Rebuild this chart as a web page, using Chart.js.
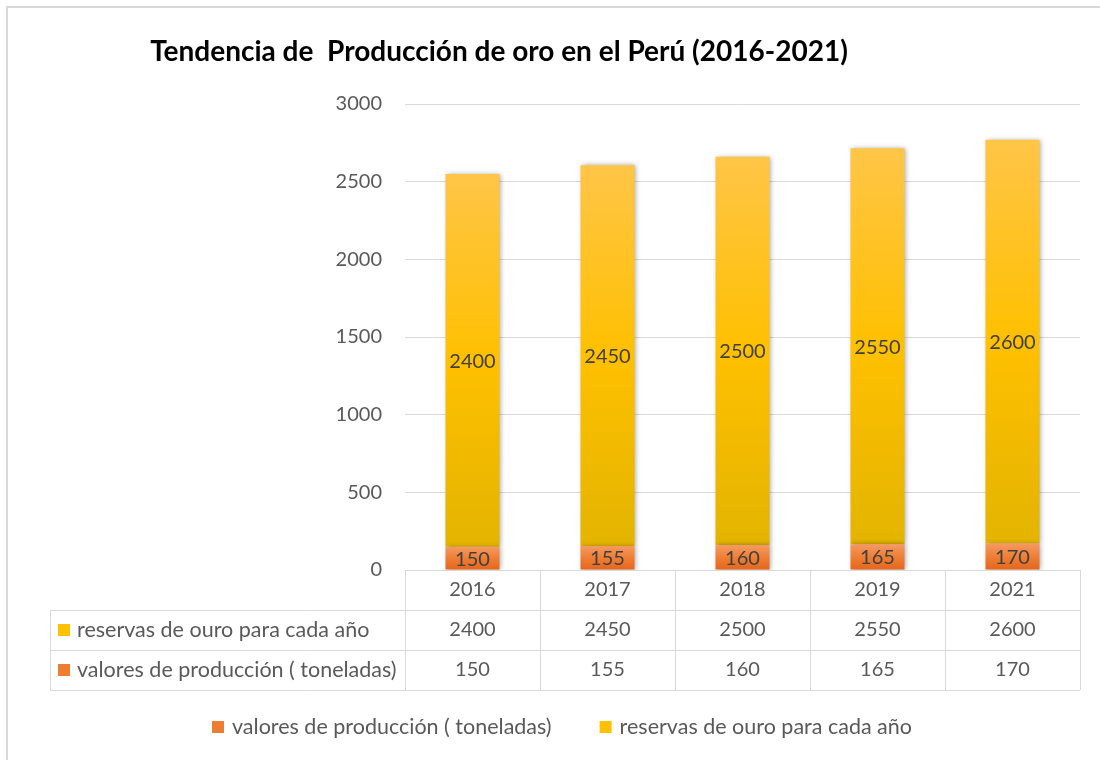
<!DOCTYPE html>
<html>
<head>
<meta charset="utf-8">
<script src="https://cdn.jsdelivr.net/npm/chart.js@4"></script>
<style>
  html, body { margin: 0; padding: 0; background: #fff; }
  #wrap { position: relative; width: 1100px; height: 760px; overflow: hidden; }
  #marco { position: absolute; left: 6px; top: 6px; width: 1200px; height: 900px; border: 2px solid #d9d9d9; }
  #chart01 { position: absolute; left: 0; top: 0; }
</style>
</head>
<body>
<div id="wrap">
  <div id="marco"></div>
  <canvas id="chart01" width="1100" height="760"></canvas>
</div>
<script>
// datos
var titulo = 'Tendencia de  Producción de oro en el Perú (2016-2021)';
var anios = ['2016', '2017', '2018', '2019', '2021'];
var produccion = [150, 155, 160, 165, 170];
var reservas = [2400, 2450, 2500, 2550, 2600];
var nombreProduccion = 'valores de producción ( toneladas)';
var nombreReservas = 'reservas de ouro para cada año';

var FUENTE = 'Lato, "Open Sans", sans-serif';
var GRIS = '#595959';
var LINEA = '#d9d9d9';

// degradado por barra, como en Excel
function degradado(ctx, colores) {
  var chart = ctx.chart;
  if (!chart.chartArea || ctx.type !== 'data') return colores[1];
  var y = chart.scales.y;
  var i = ctx.dataIndex;
  var base = ctx.datasetIndex === 0 ? 0 : produccion[i];
  var tope = base + ctx.raw;
  var y0 = y.getPixelForValue(tope), y1 = y.getPixelForValue(base);
  if (!isFinite(y0) || !isFinite(y1) || y0 === y1) return colores[1];
  var g = chart.ctx.createLinearGradient(0, y0, 0, y1);
  g.addColorStop(0, colores[0]);
  g.addColorStop(0.5, colores[1]);
  g.addColorStop(1, colores[2]);
  return g;
}

// sombra de las barras
var sombra = {
  id: 'sombra',
  beforeDatasetsDraw: function(chart) {
    var c = chart.ctx;
    c.save();
    c.shadowColor = 'rgba(0,0,0,0.35)';
    c.shadowBlur = 5;
    c.shadowOffsetX = 1;
    c.shadowOffsetY = 0;
  },
  afterDatasetsDraw: function(chart) {
    chart.ctx.restore();
  }
};

// etiquetas, tabla de datos, leyenda y titulo
var extras = {
  id: 'extras',
  afterDraw: function(chart) {
    var c = chart.ctx;
    var x = chart.scales.x, area = chart.chartArea;
    c.save();

    // titulo
    c.fillStyle = '#000';
    c.font = 'bold 28px ' + FUENTE;
    c.textAlign = 'center';
    c.textBaseline = 'middle';
    c.fillText(titulo, 499, 52);

    // etiquetas dentro de las barras
    c.font = '20px ' + FUENTE;
    c.fillStyle = '#404040';
    chart.data.datasets.forEach(function(ds, di) {
      chart.getDatasetMeta(di).data.forEach(function(bar, i) {
        var p = bar.getProps(['x', 'y', 'base'], true);
        c.fillText(String(ds.data[i]), p.x, (p.y + p.base) / 2 + 1);
      });
    });

    // tabla
    var top = area.bottom, fila = 40;
    var izq = 50, der = area.right;
    var paso = (area.right - area.left) / anios.length;
    c.strokeStyle = LINEA;
    c.lineWidth = 1;
    c.beginPath();
    c.moveTo(area.left, top + 0.5); c.lineTo(der, top + 0.5);
    for (var r = 1; r <= 3; r++) {
      c.moveTo(izq, top + r * fila + 0.5); c.lineTo(der, top + r * fila + 0.5);
    }
    c.moveTo(izq + 0.5, top + fila); c.lineTo(izq + 0.5, top + 3 * fila);
    for (var k = 0; k <= anios.length; k++) {
      var xx = Math.round(area.left + k * paso) + 0.5;
      c.moveTo(xx, top); c.lineTo(xx, top + 3 * fila);
    }
    c.stroke();

    c.fillStyle = GRIS;
    c.font = '20px ' + FUENTE;
    c.textAlign = 'center';
    anios.forEach(function(a, i) {
      var cx = x.getPixelForValue(i);
      c.fillText(a, cx, top + fila / 2);
      c.fillText(String(reservas[i]), cx, top + fila * 1.5);
      c.fillText(String(produccion[i]), cx, top + fila * 2.5);
    });

    c.textAlign = 'left';
    c.font = '21.5px ' + FUENTE;
    c.fillStyle = '#FFC000';
    c.fillRect(58, top + fila * 1.5 - 6, 12, 12);
    c.fillStyle = '#ED7D31';
    c.fillRect(58, top + fila * 2.5 - 6, 12, 12);
    c.fillStyle = GRIS;
    c.fillText(nombreReservas, 77, top + fila * 1.5);
    c.fillText(nombreProduccion, 77, top + fila * 2.5);

    // leyenda inferior
    var items = chart.data.datasets.map(function(ds) {
      return { texto: ds.label, color: ds.legendColor, w: c.measureText(ds.label).width };
    });
    var total = 0;
    items.forEach(function(it, i) { total += 12 + 8 + it.w + (i ? 48 : 0); });
    var lx = 562 - total / 2, ly = 727;
    items.forEach(function(it) {
      c.fillStyle = it.color;
      c.fillRect(lx, ly - 6, 12, 12);
      c.fillStyle = GRIS;
      c.fillText(it.texto, lx + 20, ly);
      lx += 20 + it.w + 48;
    });

    c.restore();
  }
};

var ctx = document.getElementById('chart01');
var grafico = new Chart(ctx, {
  type: 'bar',
  data: {
    labels: anios,
    datasets: [
    {
      label: nombreProduccion,
      data: produccion,
      legendColor: '#ED7D31',
      backgroundColor: function(c) { return degradado(c, ['#F59A62', '#EE7E34', '#E4661C']); },
      borderWidth: 0,
    },{
      label: nombreReservas,
      data: reservas,
      legendColor: '#FFC000',
      backgroundColor: function(c) { return degradado(c, ['#FFC547', '#FFC000', '#E3B400']); },
      borderWidth: 0,
    }]
  },
  options: {
    responsive: false,
    animation: false,
    layout: {
      padding: { left: 0, right: 20, top: 104, bottom: 70 }
    },
    datasets: {
      bar: { categoryPercentage: 1, barPercentage: 0.4 }
    },
    plugins: {
      title: { display: false },
      tooltip: { enabled: false },
      legend: { display: false }
    },
    scales: {
      x: {
        stacked: true,
        grid: { display: false },
        border: { display: false },
        ticks: { display: false },
        afterFit: function(s) { s.height = 120; }
      },
      y: {
        stacked: true,
        min: 0,
        max: 3000,
        ticks: {
          stepSize: 500,
          color: GRIS,
          padding: 23,
          font: { family: FUENTE, size: 20 },
          callback: function(v) { return String(v); }
        },
        grid: { color: LINEA, drawTicks: false },
        border: { display: false },
        afterFit: function(s) { s.width = 405; }
      }
    }
  },
  plugins: [sombra, extras]
});
</script>
</body>
</html>
